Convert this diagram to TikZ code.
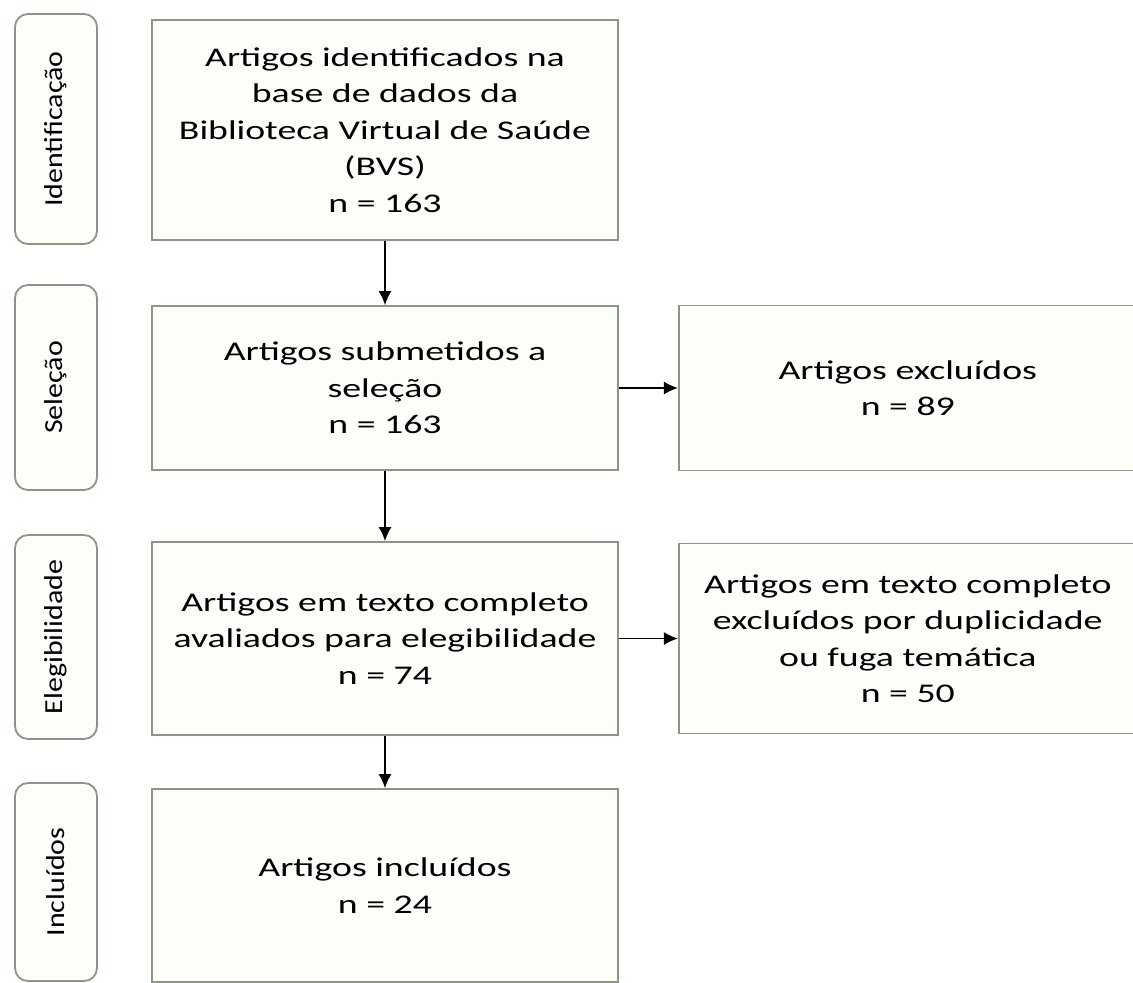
\documentclass[tikz,border=0pt]{standalone}
\usepackage{fontspec}
\setmainfont{Carlito}[FakeStretch=1.4]
\newfontfamily\sidefont{Carlito}[FakeStretch=1.15]
\usepackage{tikz}
\usetikzlibrary{arrows.meta,
                positioning}
\definecolor{boxline}{HTML}{8A9784}
\definecolor{boxfill}{HTML}{FDFEF9}
\tikzset{stage/.style =
   {rectangle,
    draw=boxline,
    fill=boxfill,
    line width=1.8pt,
    text centered,
    align=center,
    inner sep=0pt,
    minimum width=466pt,
    font=\fontsize{27}{36.5}\selectfont}}
\tikzset{phase/.style =
   {rectangle,
    rounded corners=13pt,
    draw=boxline,
    fill=boxfill,
    line width=1.8pt,
    rotate=90,
    inner sep=0pt,
    minimum height=82pt,
    font=\sidefont\fontsize{26}{30}\selectfont}}
\tikzset{arrow/.style = {draw, line width=1.5pt, -{Latex[length=14pt,width=13pt]}}}

\begin{document}
\begin{tikzpicture}[x=1pt, y=-1pt, auto]

    \useasboundingbox (0,0) rectangle (1133,983);

    % fases
    \node [phase, minimum width=230pt] (idlab)  at (56,129)   {Identificação};
    \node [phase, minimum width=205pt] (sellab) at (56,387.5) {Seleção};
    \node [phase, minimum width=204pt] (eleglab) at (56,637)  {Elegibilidade};
    \node [phase, minimum width=198pt] (incllab) at (56,882)  {Incluídos};

    % coluna principal
    \node [stage, minimum height=220pt] (ident) at (385,130)
     {Artigos identificados na\\ base de dados da\\ Biblioteca Virtual de Saúde\\ (BVS)\\ n = 163};
    \node [stage, minimum height=164pt] (selec) at (385,388)
     {Artigos submetidos a\\ seleção\\ n = 163};
    \node [stage, minimum height=193pt] (eleg) at (385,638.5)
     {Artigos em texto completo\\ avaliados para elegibilidade\\ n = 74};
    \node [stage, minimum height=193pt] (incl) at (385,885.5)
     {Artigos incluídos\\ n = 24};

    % excluidos
    \node [stage, minimum width=458pt, minimum height=165pt, right=59pt of selec] (excl)
     {Artigos excluídos\\ n = 89};
    \node [stage, minimum width=458pt, minimum height=190pt, right=59pt of eleg] (exclfull)
     {Artigos em texto completo\\ excluídos por duplicidade\\ ou fuga temática\\ n = 50};

    \draw [arrow] (ident) -- (selec);
    \draw [arrow] (selec) -- (eleg);
    \draw [arrow] (eleg) -- (incl);
    \draw [arrow] (selec) -- (excl);
    \draw [arrow] (eleg) -- (exclfull);

\end{tikzpicture}
\end{document}
